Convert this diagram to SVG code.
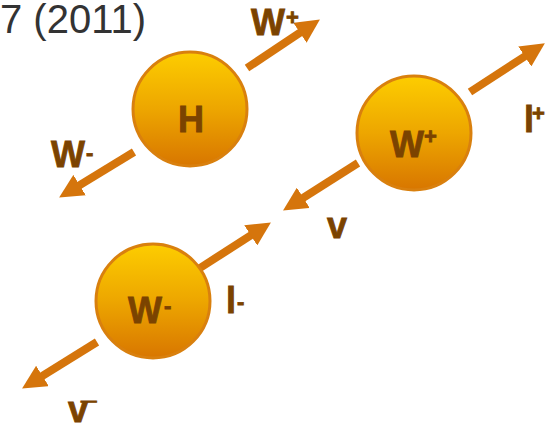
<svg xmlns="http://www.w3.org/2000/svg" width="556" height="425" viewBox="0 0 556 425">
  <defs>
    <linearGradient id="ball" x1="0" y1="0" x2="0" y2="1">
      <stop offset="0" stop-color="#FDCD00"/>
      <stop offset="0.5" stop-color="#EDA600"/>
      <stop offset="1" stop-color="#D87600"/>
    </linearGradient>
    <marker id="ah" markerUnits="userSpaceOnUse" markerWidth="24" markerHeight="24" viewBox="0 0 22 22" refX="10" refY="11" orient="auto">
      <path d="M0,0 L22,11 L0,22 z" fill="#D5750C"/>
    </marker>
  </defs>
  <style>
    .ball { fill: url(#ball); stroke: #D9800E; stroke-width: 3; }
    .arr { stroke: #D5750C; stroke-width: 8; fill: none; marker-end: url(#ah); }
    .lbl { font-family: "Liberation Sans", Arial, sans-serif; font-weight: bold; font-size: 36px; fill: #7B4300; stroke: #7B4300; stroke-width: 0.8; }
    .sup { font-size: 22px; }
    .title { font-family: "Liberation Sans", Arial, sans-serif; font-size: 40px; fill: #333333; }
  </style>
  <rect width="556" height="425" fill="#FFFFFF"/>
  <text class="title" x="0" y="33">7 (2011)</text>

  <g id="connectors">
    <line class="arr" x1="247" y1="68" x2="309" y2="26.7"/>
    <line class="arr" x1="134" y1="152" x2="70.3" y2="190.8"/>
    <line class="arr" x1="470" y1="92" x2="533.9" y2="50.5"/>
    <line class="arr" x1="358" y1="163" x2="294.1" y2="203.6"/>
    <line class="arr" x1="200" y1="268" x2="259.9" y2="229.5"/>
    <line class="arr" x1="97" y1="342" x2="33.2" y2="381.7"/>
  </g>

  <g id="node-H">
    <circle class="ball" cx="190" cy="109" r="57"/>
    <text class="lbl" x="191" y="132" text-anchor="middle">H</text>
  </g>
  <g id="node-Wplus">
    <circle class="ball" cx="414" cy="133" r="57"/>
    <text class="lbl" x="390" y="157">W<tspan class="sup" x="424" y="144">+</tspan></text>
  </g>
  <g id="node-Wminus">
    <circle class="ball" cx="153" cy="301" r="57"/>
    <text class="lbl" x="128" y="323">W<tspan class="sup" x="164" y="313">-</tspan></text>
  </g>

  <g id="labels">
    <text class="lbl" x="251" y="35">W<tspan class="sup" x="286" y="25">+</tspan></text>
    <text class="lbl" x="51" y="167">W<tspan class="sup" x="86" y="160">-</tspan></text>
    <text class="lbl" x="524" y="132">l<tspan class="sup" x="532" y="121">+</tspan></text>
    <text class="lbl" x="337" y="238" text-anchor="middle">v</text>
    <text class="lbl" x="226" y="313">l<tspan class="sup" x="237" y="309">-</tspan></text>
    <text class="lbl" x="68" y="422">v<tspan font-size="28px" x="81" y="422">¯</tspan></text>
  </g>
</svg>
